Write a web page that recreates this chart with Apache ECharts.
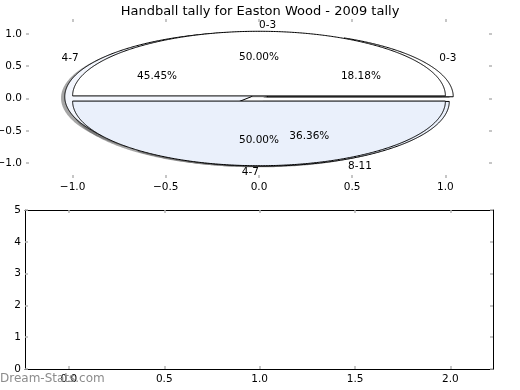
<!DOCTYPE html>
<html>
<head>
<meta charset="utf-8">
<script src="https://cdn.jsdelivr.net/npm/echarts@6/dist/echarts.min.js"></script>
<style>
html,body{margin:0;padding:0;background:#fff;}
#chart{width:520px;height:390px;}
</style>
</head>
<body>
<div id="chart"></div>
<script>
// ---- data ----
const titleText = 'Handball tally for Easton Wood - 2009 tally';
const categoriesA = ['0-3', '4-7'];
const percentA = [50.00, 50.00];
const categoriesB = ['0-3', '4-7', '8-11'];
const percentB = [18.18, 45.45, 36.36];
const topXTicks = [-1.0, -0.5, 0.0, 0.5, 1.0];
const topYTicks = [-1.0, -0.5, 0.0, 0.5, 1.0];
const bottomXTicks = [0.0, 0.5, 1.0, 1.5, 2.0];
const bottomYTicks = [0, 1, 2, 3, 4, 5];

// ---- styles ----
const FONT = 'DejaVu Sans';
const LIGHT = '#eaf0fb';
const TICK = '#b4b4b4';
const colorsA = ['#ffffff', LIGHT];
const colorsB = ['#ffffff', '#f3f6fd', LIGHT];

function buildPie(labels, vals, explode, colors) {
  const sum = vals.reduce((a, b) => a + b, 0);
  let t = 0;
  return vals.map((v, i) => {
    const f = v / sum;
    const t1 = t, t2 = t + f;
    t = t2;
    const thetam = Math.PI * (t1 + t2);
    const cx = explode * Math.cos(thetam), cy = explode * Math.sin(thetam);
    return {t1, t2, cx, cy, thetam, label: labels[i], pct: (f * 100).toFixed(2) + '%', color: colors[i]};
  });
}
const wedgesB = buildPie(categoriesB, percentB, 0.05, colorsB);
const wedgesA = buildPie(categoriesA, percentA, 0.04, colorsA);
const allWedges = wedgesB.concat(wedgesA);

const labelItems = [];
allWedges.forEach(w => {
  const xt = w.cx + 1.1 * Math.cos(w.thetam);
  const yt = w.cy + 1.1 * Math.sin(w.thetam);
  labelItems.push({x: xt, y: yt, text: w.label, align: xt > 0 ? 'left' : 'right'});
  labelItems.push({x: w.cx + 0.6 * Math.cos(w.thetam), y: w.cy + 0.6 * Math.sin(w.thetam), text: w.pct, align: 'center'});
});

function wedgePoints(w, api, dx, dy) {
  const pts = [api.coord([w.cx + dx, w.cy + dy])];
  const a1 = 2 * Math.PI * w.t1, a2 = 2 * Math.PI * w.t2;
  const n = Math.max(8, Math.ceil((a2 - a1) / (Math.PI / 360)));
  for (let k = 0; k <= n; k++) {
    const a = a1 + (a2 - a1) * k / n;
    pts.push(api.coord([w.cx + dx + Math.cos(a), w.cy + dy + Math.sin(a)]));
  }
  return pts;
}

const fmt = v => (Math.abs(v) < 1e-9 ? 0 : v).toFixed(1).replace('-', '\u2212');

const chart = echarts.init(document.getElementById('chart'), null, {renderer: 'canvas'});

const tickStyle = {show: true, inside: true, length: 3, lineStyle: {color: TICK, width: 1.5}};
const noLine = {show: false, onZero: false};
const blackLine = {show: true, onZero: false, lineStyle: {color: '#000', width: 1}};

chart.setOption({
  animation: false,
  backgroundColor: '#ffffff',
  title: {
    text: titleText, left: 'center', top: 0,
    textStyle: {fontFamily: FONT, fontSize: 13, fontWeight: 'normal', color: '#000'}
  },
  grid: [
    {left: 26, top: 19, width: 466, height: 159, containLabel: false, outerBoundsMode: 'none'},
    {left: 25, top: 210, width: 468, height: 159, containLabel: false, outerBoundsMode: 'none'}
  ],
  xAxis: [
    {type: 'value', gridIndex: 0, position: 'bottom', min: -1.25, max: 1.25,
     axisLine: noLine, splitLine: {show: false},
     axisTick: Object.assign({customValues: topXTicks}, tickStyle),
     axisLabel: {customValues: topXTicks, formatter: fmt, fontFamily: FONT, fontSize: 10.5, color: '#000', margin: 4}},
    {type: 'value', gridIndex: 0, position: 'top', min: -1.25, max: 1.25,
     axisLine: noLine, splitLine: {show: false},
     axisTick: Object.assign({customValues: topXTicks}, tickStyle),
     axisLabel: {show: false}},
    {type: 'value', gridIndex: 1, position: 'bottom', min: -0.23, max: 2.223,
     axisLine: blackLine, splitLine: {show: false},
     axisTick: Object.assign({customValues: bottomXTicks}, tickStyle),
     axisLabel: {customValues: bottomXTicks, formatter: fmt, fontFamily: FONT, fontSize: 10.5, color: '#000', margin: 5}},
    {type: 'value', gridIndex: 1, position: 'top', min: -0.23, max: 2.223,
     axisLine: blackLine, splitLine: {show: false},
     axisTick: Object.assign({customValues: bottomXTicks}, tickStyle),
     axisLabel: {show: false}}
  ],
  yAxis: [
    {type: 'value', gridIndex: 0, position: 'left', min: -1.23, max: 1.23,
     axisLine: noLine, splitLine: {show: false},
     axisTick: Object.assign({customValues: topYTicks}, tickStyle),
     axisLabel: {customValues: topYTicks, formatter: fmt, fontFamily: FONT, fontSize: 10.5, color: '#000', margin: 4}},
    {type: 'value', gridIndex: 0, position: 'right', min: -1.23, max: 1.23,
     axisLine: noLine, splitLine: {show: false},
     axisTick: Object.assign({customValues: topYTicks}, tickStyle),
     axisLabel: {show: false}},
    {type: 'value', gridIndex: 1, position: 'left', min: 0, max: 5, interval: 1,
     axisLine: blackLine, splitLine: {show: false},
     axisTick: Object.assign({customValues: bottomYTicks}, tickStyle),
     axisLabel: {customValues: bottomYTicks, fontFamily: FONT, fontSize: 10.5, color: '#000', margin: 4}},
    {type: 'value', gridIndex: 1, position: 'right', min: 0, max: 5, interval: 1,
     axisLine: blackLine, splitLine: {show: false},
     axisTick: Object.assign({customValues: bottomYTicks}, tickStyle),
     axisLabel: {show: false}}
  ],
  graphic: [
    {type: 'text', left: 0, top: 373, z: 100,
     style: {text: 'Dream-Stats.com', fill: '#8c8c8c', font: '12px "DejaVu Sans"'}}
  ],
  series: [
    {
      type: 'custom', name: 'shadows', xAxisIndex: 0, yAxisIndex: 0, z: 1, clip: false, silent: true,
      data: allWedges.map((w, i) => [0, 0, i]),
      renderItem: function (params, api) {
        const w = allWedges[params.dataIndex];
        return {type: 'polygon', shape: {points: wedgePoints(w, api, -0.02, -0.02)},
                style: {fill: 'rgba(77,77,77,0.5)', stroke: null}};
      }
    },
    {
      type: 'custom', name: 'pieB', xAxisIndex: 0, yAxisIndex: 0, z: 2, clip: false, silent: true,
      data: wedgesB.map((w, i) => [0, 0, i]),
      renderItem: function (params, api) {
        const w = wedgesB[params.dataIndex];
        return {type: 'polygon', shape: {points: wedgePoints(w, api, 0, 0)},
                style: {fill: w.color, stroke: '#000', lineWidth: 1}};
      }
    },
    {
      type: 'custom', name: 'pieA', xAxisIndex: 0, yAxisIndex: 0, z: 3, clip: false, silent: true,
      data: wedgesA.map((w, i) => [0, 0, i]),
      renderItem: function (params, api) {
        const w = wedgesA[params.dataIndex];
        return {type: 'polygon', shape: {points: wedgePoints(w, api, 0, 0)},
                style: {fill: w.color, stroke: '#000', lineWidth: 1}};
      }
    },
    {
      type: 'custom', name: 'labels', xAxisIndex: 0, yAxisIndex: 0, z: 4, clip: false, silent: true,
      data: labelItems.map(l => [l.x, l.y]),
      renderItem: function (params, api) {
        const l = labelItems[params.dataIndex];
        const p = api.coord([l.x, l.y]);
        return {type: 'text', x: p[0], y: p[1],
                style: {text: l.text, textAlign: l.align, textVerticalAlign: 'middle',
                        fill: '#000', font: '10.5px "DejaVu Sans"'}};
      }
    },
    {type: 'line', xAxisIndex: 2, yAxisIndex: 2, data: [], silent: true}
  ]
});
</script>
</body>
</html>
